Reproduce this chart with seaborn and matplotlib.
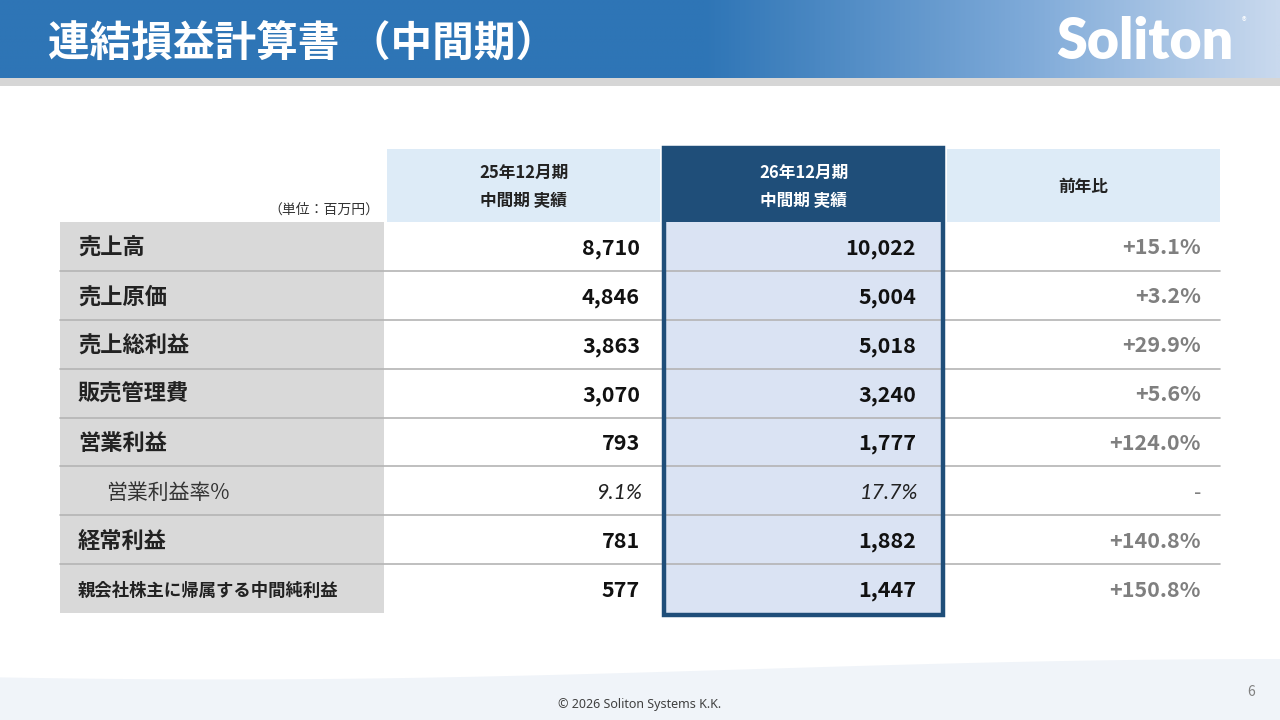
import numpy as np
import matplotlib.pyplot as plt
import seaborn as sns
from matplotlib.patches import Rectangle
from matplotlib.colors import LinearSegmentedColormap

# table content
row_labels = ["売上高", "売上原価", "売上総利益", "販売管理費", "営業利益",
              "営業利益率%", "経常利益", "親会社株主に帰属する中間純利益"]
prev_values = [8710, 4846, 3863, 3070, 793, 9.1, 781, 577]
curr_values = [10022, 5004, 5018, 3240, 1777, 17.7, 1882, 1447]
yoy_values = [15.1, 3.2, 29.9, 5.6, 124.0, None, 140.8, 150.8]
ratio_rows = [5]
col_headers = [["25年12月期", "中間期 実績"], ["26年12月期", "中間期 実績"], ["前年比"]]
unit_label = "（単位：百万円）"
title = "連結損益計算書 （中間期）"

sns.set_theme(style="white")
plt.rcParams["font.family"] = ["Noto Sans CJK JP", "DejaVu Sans"]

NAVY = "#1F4E79"
LIGHT_BLUE = "#DDEBF7"
HILITE = "#DAE3F3"
GRAY = "#D9D9D9"
LINE = "#B4B4B4"

fig = plt.figure(figsize=(12.8, 7.2), dpi=100)
ax = fig.add_axes([0, 0, 1, 1])

# header band with gradient
grad = np.linspace(0, 1, 512)[None, :]
cmap = LinearSegmentedColormap.from_list(
    "hdr", [(0, "#2E75B6"), (0.55, "#2E75B6"), (0.8, "#7DA9D8"), (1, "#C9D9EE")])
ax.imshow(grad, cmap=cmap, extent=[0, 1280, 78, 0], aspect="auto", zorder=0)
ax.add_patch(Rectangle((0, 78), 1280, 8, color="#D6D6D6", lw=0))
ax.text(48, 56, title, color="white", fontsize=30, fontweight="bold", va="baseline")
ax.text(1056, 59, "Soliton", color="white", fontsize=40, fontweight="heavy",
        family=["Lato", "DejaVu Sans"], va="baseline")
ax.text(1244, 22, "®", color="white", fontsize=7, va="center", ha="center")

# footer wave
xs = np.linspace(0, 1280, 300)
top = 671 + 9 * np.cos(np.pi * (xs - 250) / 1000) * (xs < 1250) - 3 * (xs / 1280)
top = np.where(xs > 1250, 659, top)
ax.fill_between(xs, top, 720, color="#F0F4F9", lw=0, zorder=0)
ax.text(640, 708, "© 2026 Soliton Systems K.K.", fontsize=9, color="#404040",
        ha="center", va="baseline", family=["Noto Sans", "DejaVu Sans"])
ax.text(1251, 696, "6", fontsize=10, color="#808080", ha="center", va="baseline")

# table geometry
lab_x0, lab_x1 = 60, 384
cols = [(387, 660), (662, 945), (947, 1220)]
val_x = [640, 916, 1201]
hdr_top, hdr_bot = 149, 222
n = len(row_labels)
row_h = (613 - hdr_bot) / n

# header cells
ax.add_patch(Rectangle((cols[0][0], hdr_top), cols[0][1] - cols[0][0], hdr_bot - hdr_top,
                       color=LIGHT_BLUE, lw=0))
ax.add_patch(Rectangle((cols[2][0], hdr_top), cols[2][1] - cols[2][0], hdr_bot - hdr_top,
                       color=LIGHT_BLUE, lw=0))
ax.add_patch(Rectangle((cols[1][0], 146), cols[1][1] - cols[1][0], hdr_bot - 146,
                       color=NAVY, lw=0))
# body backgrounds
ax.add_patch(Rectangle((lab_x0, hdr_bot), lab_x1 - lab_x0, n * row_h, color=GRAY, lw=0))
ax.add_patch(Rectangle((cols[1][0], hdr_bot), cols[1][1] - cols[1][0], n * row_h + 3,
                       color=HILITE, lw=0))

# header text
hdr_colors = ["#222222", "white", "#222222"]
for j, lines in enumerate(col_headers):
    cx = (cols[j][0] + cols[j][1]) / 2
    ys = [178, 206] if len(lines) == 2 else [192]
    for line, yy in zip(lines, ys):
        ax.text(cx, yy, line, ha="center", va="baseline", fontsize=12,
                fontweight="bold", color=hdr_colors[j])
ax.text(379, 214, unit_label, ha="right", va="baseline", fontsize=10, color="#333333")

# rows
for i, label in enumerate(row_labels):
    y0 = hdr_bot + i * row_h
    base = y0 + row_h / 2 + 8
    if i > 0:
        ax.plot([lab_x0, cols[2][1]], [y0, y0], color=LINE, lw=1.2, zorder=2)
    if i in ratio_rows:
        ax.text(106, base, label, fontsize=15, color="#333333", va="baseline")
        for x, v in zip(val_x[:2], [prev_values[i], curr_values[i]]):
            ax.text(x + 2, base, f"{v:.1f}%", fontsize=15.5, style="italic",
                    family=["Lato", "DejaVu Sans"], color="#222222",
                    ha="right", va="baseline")
        yoy = "-" if yoy_values[i] is None else f"+{yoy_values[i]:.1f}%"
        ax.text(val_x[2], base, yoy, fontsize=15, color="#808080",
                ha="right", va="baseline")
    else:
        fs = 12.5 if len(label) > 10 else 16
        ax.text(78, base - (1 if fs < 16 else 0), label, fontsize=fs, fontweight="bold",
                color="#222222", va="baseline")
        ax.text(val_x[0], base, f"{prev_values[i]:,}", fontsize=15.5, fontweight="bold",
                color="#111111", ha="right", va="baseline")
        ax.text(val_x[1], base, f"{curr_values[i]:,}", fontsize=15.5, fontweight="bold",
                color="#111111", ha="right", va="baseline")
        ax.text(val_x[2], base, f"+{yoy_values[i]:.1f}%", fontsize=15.5, fontweight="bold",
                color="#7F7F7F", ha="right", va="baseline")

# highlight border
ax.add_patch(Rectangle((cols[1][0] + 2, 148), cols[1][1] - cols[1][0] - 4, 617 - 150,
                       fill=False, edgecolor=NAVY, lw=3.2, zorder=3))

ax.set_xlim(0, 1280)
ax.set_ylim(720, 0)
ax.axis("off")
fig.savefig("out.png", dpi=100)
